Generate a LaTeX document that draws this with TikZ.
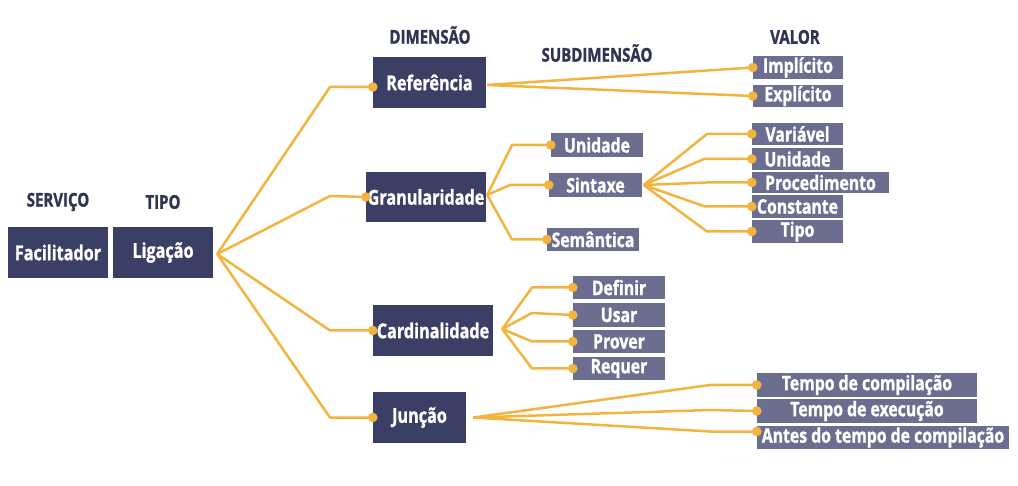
\documentclass[tikz,border=0pt]{standalone}
\usepackage{fontspec}
\setmainfont{Open Sans}[FakeStretch=0.79, BoldFeatures={FakeBold=1.2}]
\definecolor{darkbox}{HTML}{3B3F65}
\definecolor{lightbox}{HTML}{6B6E8E}
\definecolor{linec}{HTML}{F3B43F}
\definecolor{headc}{HTML}{2F3452}
\tikzset{
  dbox/.style={fill=darkbox, text=white, inner sep=0pt, font=\bfseries\fontsize{20.5}{22}\selectfont},
  lbox/.style={fill=lightbox, text=white, inner sep=0pt, font=\bfseries\fontsize{20}{21}\selectfont},
  head/.style={text=headc, inner sep=0pt, font=\bfseries\fontsize{19}{21}\selectfont},
  conn/.style={draw=linec, line width=2.5pt, line join=round},
  dotc/.style={fill=linec}
}
\begin{document}
\begin{tikzpicture}[x=1pt,y=-1pt]
\useasboundingbox (0,0) rectangle (1018,486);
% headers
\node[head] (hserv) at (58,202) {SERVIÇO};
\node[head] (htipo) at (163,202) {TIPO};
\node[head] (hdim) at (430,35) {DIMENSÃO};
\node[head] (hsub) at (597,53) {SUBDIMENSÃO};
\node[head] (hval) at (795,37) {VALOR};
% dark boxes
\node[dbox, minimum width=100pt, minimum height=51pt] (fac) at (58,252.5) {Facilitador};
\node[dbox, minimum width=100pt, minimum height=51pt] (lig) at (163,252.5) {Ligação};
\node[dbox, minimum width=113pt, minimum height=51pt] (ref) at (429.5,82.5) {Referência};
\node[dbox, minimum width=120pt, minimum height=50pt] (gran) at (426,197) {Granularidade};
\node[dbox, minimum width=120pt, minimum height=51pt] (card) at (433,330.5) {Cardinalidade};
\node[dbox, minimum width=93pt, minimum height=51pt] (junc) at (419.5,417.5) {Junção};
% light boxes
\node[lbox, minimum width=92pt, minimum height=24pt] (sunid) at (597,145) {Unidade};
\node[lbox, minimum width=93pt, minimum height=24pt] (ssint) at (595.5,185) {Sintaxe};
\node[lbox, minimum width=92pt, minimum height=23pt] (ssem) at (593,239.5) {Semântica};
\node[lbox, minimum width=90pt, minimum height=23pt] (vimp) at (798,67.5) {Implícito};
\node[lbox, minimum width=90pt, minimum height=22pt] (vexp) at (798,96) {Explícito};
\node[lbox, minimum width=91pt, minimum height=22pt] (vvar) at (797.5,134) {Variável};
\node[lbox, minimum width=91pt, minimum height=22pt] (vuni) at (797.5,159) {Unidade};
\node[lbox, minimum width=137pt, minimum height=21pt] (vproc) at (820.5,182.5) {Procedimento};
\node[lbox, minimum width=91pt, minimum height=23pt] (vcons) at (797.5,206.5) {Constante};
\node[lbox, minimum width=91pt, minimum height=23pt] (vtipo) at (797.5,231.5) {Tipo};
\node[lbox, minimum width=92pt, minimum height=23pt] (cdef) at (619,287.5) {Definir};
\node[lbox, minimum width=92pt, minimum height=24pt] (cusar) at (619,315) {Usar};
\node[lbox, minimum width=92pt, minimum height=23pt] (cprov) at (619,341.5) {Prover};
\node[lbox, minimum width=92pt, minimum height=23pt] (creq) at (619,368.5) {Requer};
\node[lbox, minimum width=220pt, minimum height=24pt] (jcomp) at (867,385) {Tempo de compilação};
\node[lbox, minimum width=220pt, minimum height=24pt] (jexec) at (867,411) {Tempo de execução};
\node[lbox, minimum width=252pt, minimum height=23pt] (jantes) at (883,437.5) {Antes do tempo de compilação};
% connector anchors
\coordinate (lp) at ([xshift=4pt,yshift=-1.5pt]lig.east);
\coordinate (refin) at ([yshift=-4.5pt]ref.west);
\coordinate (rp) at ([xshift=1pt,yshift=-2.5pt]ref.east);
\coordinate (gp) at ([xshift=1pt,yshift=2pt]gran.east);
\coordinate (sp) at ([xshift=1.5pt]ssint.east);
\coordinate (cp) at ([xshift=9pt,yshift=1.5pt]card.east);
\coordinate (jp) at ([xshift=7pt]junc.east);
\coordinate (antin) at ([yshift=6pt]jantes.west);
% connectors
\draw[conn] (lp) -- (330,87) -- (refin);
\draw[conn] (lp) -- (330,196) -- (gran.west);
\draw[conn] (lp) -- (330,330.5) -- (card.west);
\draw[conn] (lp) -- (330,417.5) -- (junc.west);
\draw[conn] (rp) -- (vimp.west);
\draw[conn] (rp) -- (vexp.west);
\draw[conn] (gp) -- (512,145) -- (sunid.west);
\draw[conn] (gp) -- (510,185) -- (ssint.west);
\draw[conn] (gp) -- (512,239.5) -- (ssem.west);
\draw[conn] (sp) -- (707,134) -- (vvar.west);
\draw[conn] (sp) -- (704,159) -- (vuni.west);
\draw[conn] (sp) -- (706,182.5) -- (vproc.west);
\draw[conn] (sp) -- (705,206.5) -- (vcons.west);
\draw[conn] (sp) -- (707,231.5) -- (vtipo.west);
\draw[conn] (cp) -- (532,287.5) -- (cdef.west);
\draw[conn] (cp) -- (532,313) -- (cusar.west);
\draw[conn] (cp) -- (532,341.5) -- (cprov.west);
\draw[conn] (cp) -- (532,368.5) -- (creq.west);
\draw[conn] (jp) -- (710,385) -- (jcomp.west);
\draw[conn] (jp) -- (710,410) -- (jexec.west);
\draw[conn] (jp) -- (710,431.5) -- (antin);
% dots
\foreach \p in {refin,gran.west,card.west,junc.west,vimp.west,vexp.west,sunid.west,ssint.west,ssem.west,vvar.west,vuni.west,vproc.west,vcons.west,vtipo.west,cdef.west,cusar.west,cprov.west,creq.west,jcomp.west,jexec.west,antin}
  \fill[dotc] (\p) circle (4.8pt);
\end{tikzpicture}
\end{document}
